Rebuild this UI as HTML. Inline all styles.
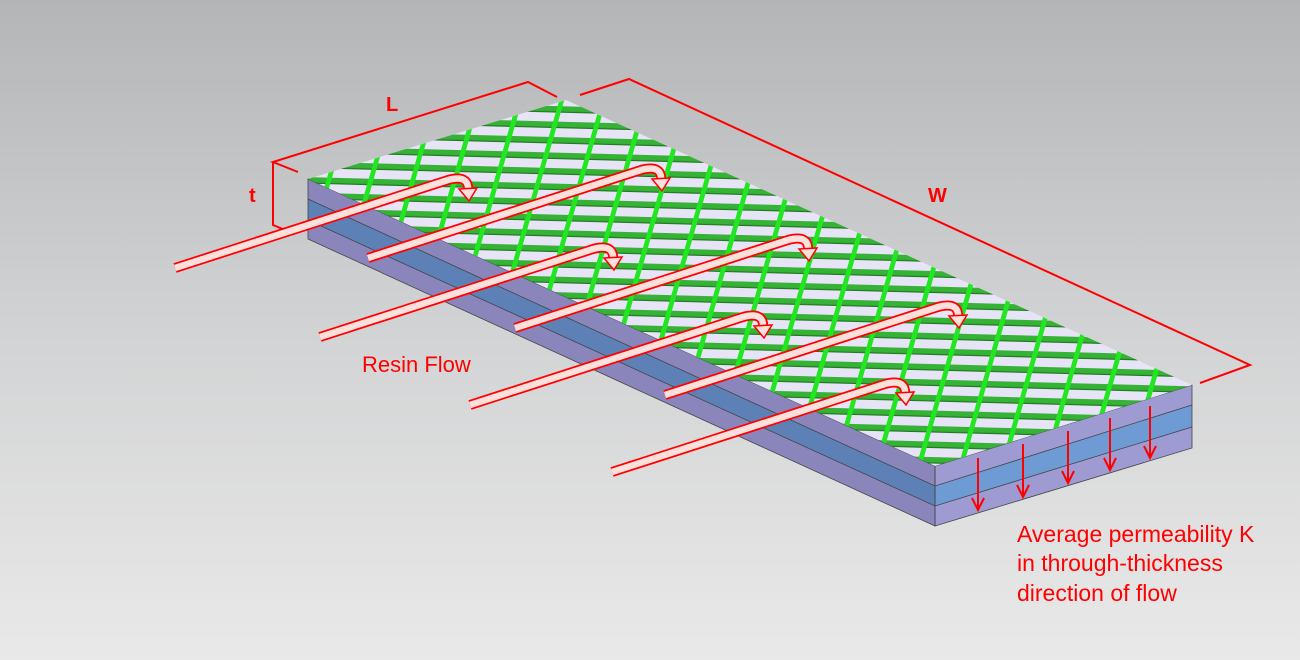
<!DOCTYPE html>
<html><head><style>
html,body{margin:0;padding:0;}
body{width:1300px;height:660px;overflow:hidden;background:linear-gradient(#b4b5b7,#d2d3d4 50%,#e9e9e9);font-family:"Liberation Sans",sans-serif;}
svg{position:absolute;left:0;top:0;}
</style></head><body>
<svg width="1300" height="660" viewBox="0 0 1300 660">
<defs>
<clipPath id="top"><polygon points="308,179 566,100 1192,385 935,466"/></clipPath>
<pattern id="rows" width="1300" height="15.5" patternUnits="userSpaceOnUse" patternTransform="rotate(1.5)">
<rect x="0" y="0" width="1300" height="15.5" fill="#36b236"/>
<rect x="0" y="5" width="1300" height="9" fill="#e6e4f6"/>
<rect x="0" y="3.8" width="1300" height="1.2" fill="#1f7a1f"/>
</pattern>
<pattern id="diag" width="42" height="200" patternUnits="userSpaceOnUse" patternTransform="skewX(-16)">
<rect x="0" y="0" width="5" height="200" fill="#22e622"/>
</pattern>
</defs>
<polygon points="308,179 935,466 935,486 308,199" fill="#8a86bc"/>
<polygon points="308,199 935,486 935,506 308,220" fill="#5d81b7"/>
<polygon points="308,220 935,506 935,526 308,239" fill="#8a86bc"/>
<polygon points="935,466 1192,385 1192,405 935,486" fill="#9e9ad2"/>
<polygon points="935,486 1192,405 1192,427 935,506" fill="#6f9bd4"/>
<polygon points="935,506 1192,427 1192,448 935,526" fill="#9e9ad2"/>
<g stroke="#444" stroke-width="0.8" fill="none">
<polyline points="308,199 935,486 1192,405"/><polyline points="308,220 935,506 1192,427"/>
<polygon points="308,179 935,466 935,526 308,239"/><polygon points="935,466 1192,385 1192,448 935,526"/>
</g>
<g clip-path="url(#top)">
<rect x="300" y="90" width="900" height="390" fill="url(#rows)"/>
<rect x="300" y="90" width="900" height="390" fill="url(#diag)"/>
</g>
<g stroke="#f00" stroke-width="2" fill="none">
<line x1="978" y1="458" x2="978" y2="508"/><polyline points="972,498 978,510 984,498"/>
<line x1="1023" y1="444" x2="1023" y2="495"/><polyline points="1017,485 1023,497 1029,485"/>
<line x1="1068" y1="431" x2="1068" y2="481"/><polyline points="1062,471 1068,483 1074,471"/>
<line x1="1110" y1="418" x2="1110" y2="468"/><polyline points="1104,458 1110,470 1116,458"/>
<line x1="1150" y1="406" x2="1150" y2="456"/><polyline points="1144,446 1150,458 1156,446"/>
</g>
<g stroke="#f00" stroke-width="2" fill="none">
<polyline points="298,172 273,162 528,82 557,97"/>
<polyline points="290,232 273,225 273,162"/>
<polyline points="580,95 629,79 1250,365 1200,383"/>
</g>
<g font-weight="bold" font-size="20" fill="#f00">
<text x="386" y="111">L</text><text x="249" y="202">t</text><text x="928" y="202">W</text>
</g>
<g id="arrows">
<path d="M175,268 L448,180 Q470,174 468,192" stroke="#f00" stroke-width="10" fill="none"/>
<path d="M175,268 L448,180 Q470,174 468,192" stroke="#fde0dc" stroke-width="6.5" fill="none"/>
<polygon points="459,189 477,188 469,201" fill="#fde0dc" stroke="#f00" stroke-width="1.5"/>
</g>
<use href="#arrows" transform="translate(193,-10)"/>
<use href="#arrows" transform="translate(145,69)"/>
<use href="#arrows" transform="translate(340,60)"/>
<use href="#arrows" transform="translate(295,137)"/>
<use href="#arrows" transform="translate(490,127)"/>
<use href="#arrows" transform="translate(437,204)"/>
<text x="362" y="372" font-size="22" fill="#f00">Resin Flow</text>
<g font-size="23" fill="#f00">
<text x="1017" y="542">Average permeability K</text>
<text x="1017" y="571">in through-thickness</text>
<text x="1017" y="601">direction of flow</text>
</g>
</svg>
</body></html>
